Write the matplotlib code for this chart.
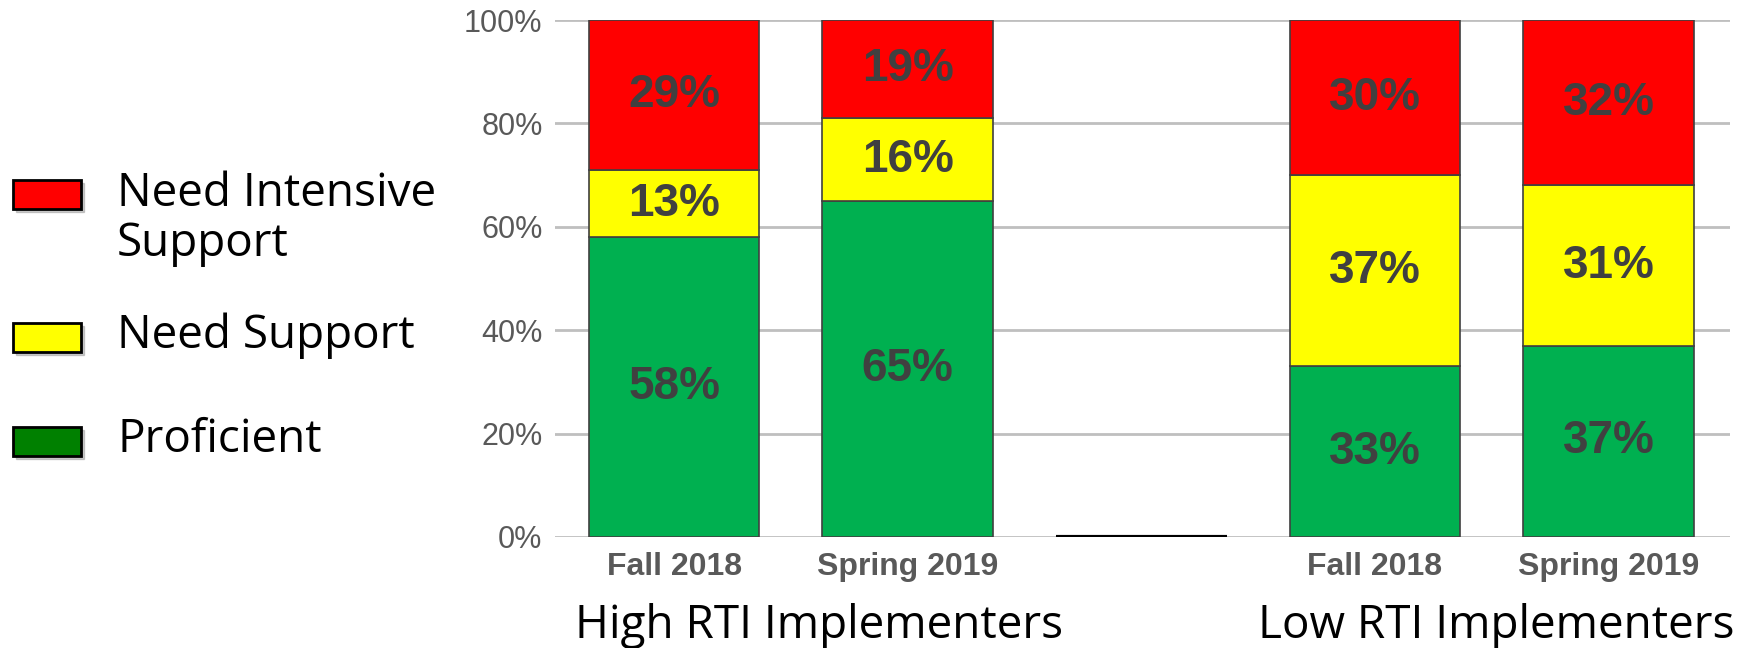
import matplotlib
matplotlib.use("Agg")
import matplotlib.pyplot as plt
from matplotlib.patches import Rectangle

# stacked shares per column (middle column is an empty spacer)
categories = ["Fall 2018", "Spring 2019", "", "Fall 2018", "Spring 2019"]
proficient = [58, 65, 0, 33, 37]
need_support = [13, 16, 0, 37, 31]
need_intensive = [29, 19, 0, 30, 32]
series_names = ["Need Intensive\nSupport", "Need Support", "Proficient"]
group_names = ["High RTI Implementers", "Low RTI Implementers"]
y_ticks = [0, 20, 40, 60, 80, 100]

RED, YELLOW, GREEN = "#FF0000", "#FFFF00", "#00B050"
LEGEND_GREEN = "#008000"
VALUE_COLOR = "#404040"
TICK_COLOR = "#595959"
CAPTION_FONT = "Open Sans"

W, H = 1742, 648
fig = plt.figure(figsize=(W / 100, H / 100), dpi=100)
ax = fig.add_axes([555 / W, 1 - 537 / H, 1175 / W, 517 / H])

x = list(range(len(categories)))
width = 0.73
stack = [(proficient, GREEN), (need_support, YELLOW), (need_intensive, RED)]
bottom = [0] * len(x)
for vals, col in stack:
    ax.bar(x, vals, width, bottom=bottom, color=col, edgecolor="#404040",
           linewidth=1.2, zorder=3)
    for xi, b, v in zip(x, bottom, vals):
        if v > 0:
            ax.text(xi, b + v / 2, f"{v}%", ha="center", va="center",
                    fontsize=33, fontweight="bold", color=VALUE_COLOR,
                    family="Liberation Sans", zorder=4)
    bottom = [b + v for b, v in zip(bottom, vals)]

# black baseline segment in the spacer column
ax.hlines(0, 2 - width / 2, 2 + width / 2, color="black", linewidth=3, zorder=4)

ax.set_xlim(-0.51, 4.52)
ax.set_ylim(0, 100)
ax.set_yticks(y_ticks)
ax.set_yticklabels([f"{t}%" for t in y_ticks], family="Liberation Sans",
                   fontsize=22, color=TICK_COLOR)
ax.set_xticks(x)
ax.set_xticklabels(categories, family="Liberation Sans", fontsize=23,
                   fontweight="bold", color=TICK_COLOR)
ax.tick_params(axis="y", length=0, pad=9)
ax.tick_params(axis="x", length=0, pad=11)
ax.yaxis.grid(True, color="#BFBFBF", linewidth=2, zorder=0)
for s in ax.spines.values():
    s.set_visible(False)

# group captions under the category labels
for cx, name in zip([819, 1496], group_names):
    fig.text(cx / W, 1 - 626 / H, name, ha="center", va="center",
             fontsize=33, family=CAPTION_FONT, color="black")

# hand-drawn legend on the left
legend_rows = [(RED, 194, 219),
               (YELLOW, 337, 336),
               (LEGEND_GREEN, 441, 440)]
pw, ph = 68 / W, 29 / H
for (col, py, ty), name in zip(legend_rows, series_names):
    py = 1 - py / H
    fig.patches.append(Rectangle((16 / W, py - ph / 2 - 3 / H), pw, ph,
                                 transform=fig.transFigure, color="#999999",
                                 alpha=0.5, zorder=1))
    fig.patches.append(Rectangle((13 / W, py - ph / 2), pw, ph,
                                 transform=fig.transFigure, facecolor=col,
                                 edgecolor="black", linewidth=2, zorder=2))
    fig.text(117 / W, 1 - ty / H, name, ha="left", va="center",
             fontsize=33, family=CAPTION_FONT, color="black", linespacing=1.12)

fig.savefig("out.png", dpi=100)
